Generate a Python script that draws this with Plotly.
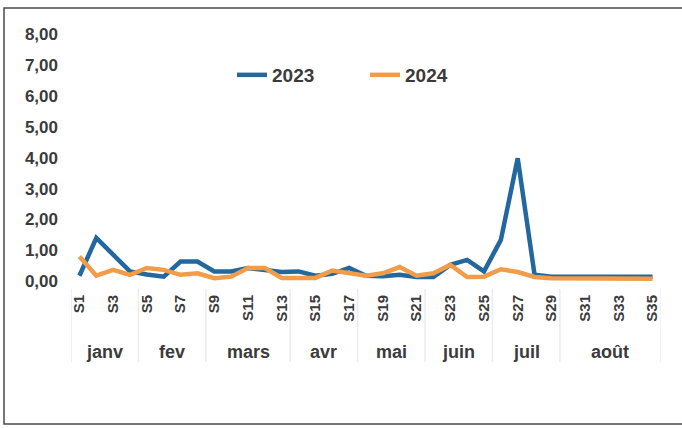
import plotly.graph_objects as go

weeks = ["S1", "S2", "S3", "S4", "S5", "S6", "S7", "S8", "S9", "S10",
         "S11", "S12", "S13", "S14", "S15", "S16", "S17", "S18", "S19", "S20",
         "S21", "S22", "S23", "S24", "S25", "S26", "S27", "S28", "S29", "S30",
         "S31", "S32", "S33", "S34", "S35"]
tick_weeks = ["S1", "S3", "S5", "S7", "S9", "S11", "S13", "S15", "S17", "S19",
              "S21", "S23", "S25", "S27", "S29", "S31", "S33", "S35"]
months = ["janv", "fev", "mars", "avr", "mai", "juin", "juil", "août"]
month_weeks = [4, 4, 5, 4, 4, 4, 4, 6]

values_2023 = [0.18, 1.40, 0.86, 0.32, 0.22, 0.15, 0.64, 0.64, 0.32, 0.32,
               0.43, 0.35, 0.30, 0.32, 0.18, 0.24, 0.43, 0.18, 0.16, 0.21,
               0.14, 0.14, 0.53, 0.69, 0.32, 1.34, 3.98, 0.21, 0.15, 0.15,
               0.15, 0.15, 0.15, 0.15, 0.15]
values_2024 = [0.80, 0.18, 0.37, 0.21, 0.43, 0.37, 0.21, 0.26, 0.10, 0.15,
               0.43, 0.43, 0.11, 0.11, 0.11, 0.35, 0.27, 0.18, 0.26, 0.46,
               0.18, 0.26, 0.53, 0.14, 0.15, 0.39, 0.30, 0.14, 0.10, 0.10,
               0.10, 0.10, 0.10, 0.09, 0.08]

BLUE = "#22679D"
ORANGE = "#F09C48"
TEXT = "#3b3b3b"
FONT = "Liberation Sans, Arial, sans-serif"

W, H = 682, 428
L, R, T, B = 71, 21, 34, 143
PW, PH = W - L - R, H - T - B


def px(x):
    return (x - L) / PW


def py(y):
    return (H - B - y) / PH


fig = go.Figure()
fig.add_trace(go.Scatter(x=weeks, y=values_2023, name="2023", mode="lines",
                         line=dict(color=BLUE, width=4.5)))
fig.add_trace(go.Scatter(x=weeks, y=values_2024, name="2024", mode="lines",
                         line=dict(color=ORANGE, width=4.5)))

shapes = []
annotations = []
start = 0
bounds = [start]
for m, n in zip(months, month_weeks):
    annotations.append(dict(x=start + (n - 1) / 2, y=0, xref="x", yref="paper",
                            text=m, showarrow=False, yanchor="middle", yshift=-67,
                            font=dict(family=FONT, size=18, color=TEXT, weight="bold")))
    start += n
    bounds.append(start)
for b in bounds:
    shapes.append(dict(type="line", xref="x", yref="paper", x0=b - 0.5, x1=b - 0.5,
                       y0=py(289), y1=py(362), line=dict(color="#ececec", width=1.5)))

# outer frame of the scanned page
shapes.append(dict(type="rect", xref="paper", yref="paper",
                   x0=px(4), x1=px(700), y0=py(424), y1=py(8),
                   line=dict(color="#4a4a4a", width=1.5)))

fig.update_layout(
    width=W, height=H,
    margin=dict(l=L, r=R, t=T, b=B),
    paper_bgcolor="white", plot_bgcolor="white",
    separators=", ",
    showlegend=True,
    legend=dict(orientation="h", x=px(232), xanchor="left", y=py(75), yanchor="middle",
                font=dict(family=FONT, size=19, color=TEXT, weight="bold"),
                itemwidth=30, entrywidth=88, bgcolor="rgba(0,0,0,0)"),
    xaxis=dict(type="category", range=[-0.5, 34.5], tickmode="array",
               tickvals=tick_weeks, ticktext=tick_weeks, tickangle=-90,
               showgrid=False, zeroline=False, showline=False, ticks="",
               ticklabelstandoff=6,
               tickfont=dict(family=FONT, size=15, color=TEXT, weight="bold")),
    yaxis=dict(range=[-0.12, 8.0], tickvals=[0, 1, 2, 3, 4, 5, 6, 7, 8],
               tickformat=".2f", showgrid=False, zeroline=False, showline=False,
               ticks="", ticklabelstandoff=12,
               tickfont=dict(family=FONT, size=17, color=TEXT, weight="bold")),
    shapes=shapes, annotations=annotations,
)

fig.write_html("out.html", config={"displayModeBar": False},
               post_script="document.body.style.margin='0px';")
